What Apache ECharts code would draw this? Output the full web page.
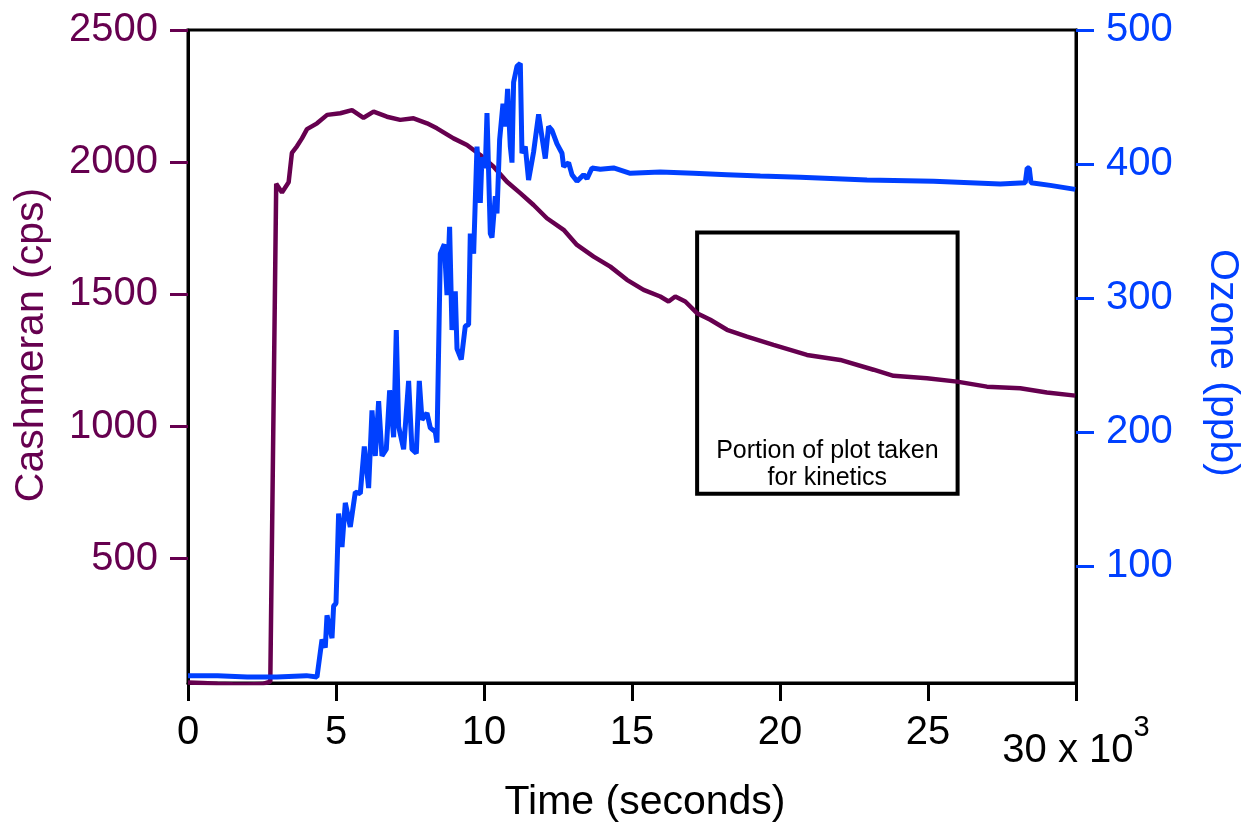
<!DOCTYPE html>
<html>
<head>
<meta charset="utf-8">
<title>Cashmeran and ozone</title>
<script src="https://cdn.jsdelivr.net/npm/echarts@6/dist/echarts.min.js"></script>
<style>
  html, body { margin: 0; padding: 0; background: #fff; }
  #chart { width: 1242px; height: 829px; }
</style>
</head>
<body>
<div id="chart"></div>
<script>
// values (time in seconds)
const cashTime = [0, 500, 1000, 1500, 2000, 2500, 2780, 2980, 3175, 3400, 3510, 3680, 3850, 4020, 4360, 4700,
  5145, 5540, 5930, 6270, 6720, 7170, 7620, 8075, 8410, 8970, 9425, 9875, 10325, 10775, 11225, 11675,
  12125, 12690, 13141, 13704, 14267, 14830, 15392, 15955, 16236, 16462, 16800, 17195, 17645, 18210,
  18885, 19780, 20910, 22035, 23160, 23835, 24965, 25980, 26990, 28115, 29015, 29975];
const cashCps = [32, 30, 27, 25, 24, 26, 35, 1918, 1885, 1924, 2035, 2060, 2090, 2125, 2147, 2179,
  2185, 2197, 2168, 2191, 2172, 2160, 2166, 2147, 2128, 2090, 2065, 2027, 1983, 1926, 1883, 1838,
  1788, 1744, 1687, 1643, 1605, 1555, 1517, 1492, 1473, 1492, 1473, 1429, 1404, 1366,
  1340, 1309, 1271, 1252, 1215, 1192, 1183, 1170, 1151, 1145, 1129, 1117];

const ozoneTime = [0, 1000, 2000, 3000, 4000, 4358, 4527, 4638, 4696, 4865, 4920, 5000, 5088, 5203, 5314,
  5483, 5652, 5821, 5956, 6102, 6216, 6328, 6440, 6553, 6700, 6812, 6947, 7037, 7116, 7285, 7453,
  7566, 7713, 7814, 7905, 8074, 8186, 8355, 8411, 8524, 8659, 8750, 8838, 8918, 9030, 9088, 9233,
  9368, 9480, 9537, 9650, 9763, 9875, 9931, 10044, 10101, 10213, 10270, 10382, 10439, 10528, 10641,
  10720, 10798, 10889, 10946, 11000, 11115, 11227, 11283, 11395, 11506, 11676, 11845, 11959, 12070,
  12182, 12297, 12466, 12635, 12690, 12858, 12972, 13142, 13365, 13480, 13649, 13929, 14378, 14942,
  15955, 17080, 18210, 19334, 20685, 22940, 25190, 27442, 28286, 28350, 28420, 28480, 29130, 29975];
const ozonePpb = [18, 18, 17, 17, 18, 17, 45, 39, 63, 46, 70, 72, 139, 114, 147,
  129, 155, 154, 189, 158, 216, 182, 223, 182, 187, 231, 196, 276, 204, 187, 238,
  187, 184, 238, 209, 214, 203, 200, 192, 333, 340, 302, 353, 276, 305, 262, 254,
  279, 280, 348, 333, 413, 371, 405, 397, 438, 348, 345, 376, 363, 418, 445,
  428, 456, 413, 401, 461, 473, 475, 408, 413, 388, 409, 437, 420, 404,
  428, 425, 415, 408, 398, 401, 392, 387, 392, 389, 397, 396, 397, 393,
  394, 393, 392, 391, 390, 388, 387, 385, 386, 397, 397, 386, 384, 381];

const cpsTicks = [500, 1000, 1500, 2000, 2500];
const ppbTicks = [100, 200, 300, 400, 500];
const kineticsBox = { from: 17200, to: 26000, top: 1734, bottom: 746 };

const PURPLE = '#66004f';
const BLUE = '#0040ff';
const FONT = '"Liberation Sans", Arial, sans-serif';

const zip = (xs, ys) => xs.map((x, i) => [x, ys[i]]);

const chart = echarts.init(document.getElementById('chart'), null, { renderer: 'canvas' });

chart.setOption({
  animation: false,
  backgroundColor: '#fff',
  textStyle: { fontFamily: FONT },
  grid: {
    left: 188, top: 30, width: 888, height: 653,
    show: true, borderColor: '#000', borderWidth: 3, backgroundColor: 'transparent',
  },
  xAxis: {
    type: 'value',
    min: 0,
    max: 30000,
    interval: 5000,
    axisLine: { lineStyle: { color: '#000', width: 3 } },
    axisTick: { length: 18, lineStyle: { color: '#000', width: 3 } },
    splitLine: { show: false },
    axisLabel: {
      margin: 30,
      fontSize: 40,
      lineHeight: 40,
      color: '#000',
      fontFamily: FONT,
      formatter: (v) => (v === 30000 ? '{m|30 x 10}{s|3}' : String(v / 1000)),
      rich: {
        m: { fontSize: 40, lineHeight: 58, verticalAlign: 'bottom', color: '#000', fontFamily: FONT },
        s: { fontSize: 29, lineHeight: 29, verticalAlign: 'top', color: '#000', fontFamily: FONT },
      },
    },
  },
  yAxis: [
    {
      type: 'value',
      position: 'left',
      min: 30,
      max: 2500,
      axisLine: { show: true, lineStyle: { color: '#000', width: 3 } },
      axisTick: { show: true, length: 18, customValues: cpsTicks, lineStyle: { color: PURPLE, width: 3 } },
      axisLabel: {
        customValues: cpsTicks, margin: 30, fontSize: 40, color: PURPLE, fontFamily: FONT,
        formatter: (v) => String(v),
      },
      splitLine: { show: false },
    },
    {
      type: 'value',
      position: 'right',
      min: 12.5,
      max: 500,
      axisLine: { show: true, lineStyle: { color: '#000', width: 3 } },
      axisTick: { show: true, length: 18, customValues: ppbTicks, lineStyle: { color: BLUE, width: 3 } },
      axisLabel: {
        customValues: ppbTicks, margin: 30, fontSize: 40, color: BLUE, fontFamily: FONT,
        formatter: (v) => String(v),
      },
      splitLine: { show: false },
    },
  ],
  graphic: [
    {
      type: 'text', x: 32, y: 345, rotation: Math.PI / 2,
      style: { text: 'Cashmeran (cps)', fill: PURPLE, font: '41px ' + FONT, align: 'center', verticalAlign: 'middle' },
    },
    {
      type: 'text', x: 1222, y: 363, rotation: -Math.PI / 2,
      style: { text: 'Ozone (ppb)', fill: BLUE, font: '41px ' + FONT, align: 'center', verticalAlign: 'middle' },
    },
    {
      type: 'text', x: 645, y: 803,
      style: { text: 'Time (seconds)', fill: '#000', font: '41px ' + FONT, align: 'center', verticalAlign: 'middle' },
    },
  ],
  series: [
    {
      name: 'Cashmeran',
      type: 'line',
      yAxisIndex: 0,
      data: zip(cashTime, cashCps),
      showSymbol: false,
      symbol: 'none',
      lineStyle: { color: PURPLE, width: 4.5 },
      emphasis: { disabled: true },
      markArea: {
        silent: true,
        itemStyle: { color: 'rgba(0,0,0,0)', borderColor: '#000', borderWidth: 4 },
        label: {
          show: true,
          position: 'insideBottom',
          distance: 4,
          formatter: 'Portion of plot taken\nfor kinetics',
          fontSize: 25,
          lineHeight: 27,
          color: '#000',
          fontFamily: FONT,
        },
        data: [[
          { xAxis: kineticsBox.from, yAxis: kineticsBox.top },
          { xAxis: kineticsBox.to, yAxis: kineticsBox.bottom },
        ]],
      },
    },
    {
      name: 'Ozone',
      type: 'line',
      yAxisIndex: 1,
      data: zip(ozoneTime, ozonePpb),
      showSymbol: false,
      symbol: 'none',
      lineStyle: { color: BLUE, width: 5 },
      emphasis: { disabled: true },
    },
  ],
});
</script>
</body>
</html>
